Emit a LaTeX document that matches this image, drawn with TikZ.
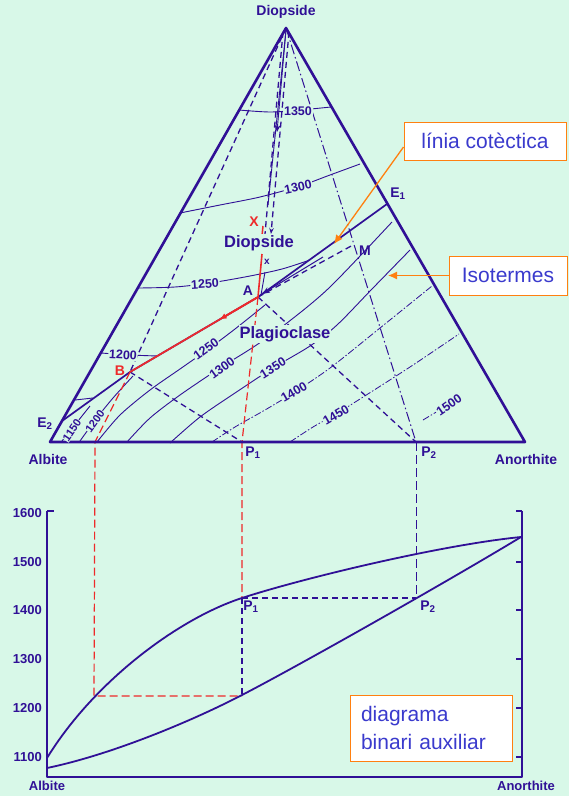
\documentclass[tikz,border=0pt]{standalone}
\usepackage{fontspec}
\setmainfont{Liberation Sans}
\usetikzlibrary{arrows.meta,calc}
\definecolor{bg}{RGB}{216,248,232}
\definecolor{ink}{RGB}{48,16,150}
\definecolor{rd}{RGB}{238,42,42}
\definecolor{org}{RGB}{255,128,16}
\definecolor{atxt}{RGB}{58,58,205}
\tikzset{
  tri/.style={ink,line width=2.6pt,line join=round},
  iso/.style={ink,line width=0.9pt},
  isodd/.style={ink,line width=0.8pt,dash pattern=on 7pt off 2pt on 1.5pt off 2pt},
  dsh/.style={ink,line width=1.3pt,dash pattern=on 6pt off 4pt},
  ldsh/.style={ink,line width=1pt,dash pattern=on 9pt off 4pt},
  ddot/.style={ink,line width=1pt,dash pattern=on 10pt off 3pt on 1.5pt off 3pt},
  rdsh/.style={rd,line width=1.2pt,dash pattern=on 8pt off 4pt},
  lbl/.style={text=ink,font=\bfseries\fontsize{14}{14}\selectfont,inner sep=1pt},
  big/.style={text=ink,font=\bfseries\fontsize{16.5}{17}\selectfont,inner sep=1pt},
  tnum/.style={text=ink,font=\bfseries\fontsize{12.5}{12.5}\selectfont,fill=bg,inner sep=0.8pt},
  snum/.style={tnum,font=\bfseries\fontsize{11}{11}\selectfont,inner sep=0.4pt},
  ann/.style={draw=org,fill=white,line width=1pt,text=atxt,font=\fontsize{21}{28}\selectfont},
  oarr/.style={org,line width=1.3pt,-{Latex[length=9pt,width=8pt]}},
  curve/.style={ink,line width=1.8pt},
}
\begin{document}
\begin{tikzpicture}[x=1pt,y=-1pt]
\fill[bg] (0,0) rectangle (569,796);
\useasboundingbox (0,0) rectangle (569,796);
% key points
\coordinate (Di) at (286,28);
\coordinate (Ab) at (50,442);
\coordinate (An) at (525,442);
\coordinate (A) at (258,297);
\coordinate (B) at (130,372);
\coordinate (E1) at (387,204);
\coordinate (E2) at (62,421);
\coordinate (M) at (353,245);
\coordinate (P1) at (242,442);
\coordinate (P2) at (416,442);
\coordinate (Q) at (95,442);
\coordinate (Xr) at (262,254);
% ---------- diopside field isotherms
\draw[iso] plot[smooth] coordinates {(239,110) (270,112) (300,110) (331,107)};
\draw[iso] plot[smooth] coordinates {(180,213) (220,205) (260,197) (300,186) (330,175) (360,164)};
\draw[iso] plot[smooth] coordinates {(139,288) (175,287) (210,283) (250,276) (282,269) (310,260)};
\draw[iso] plot[smooth] coordinates {(101,353) (130,355) (158,356)};
\draw[iso] (75,400) -- (93,398);
% ---------- plagioclase field isotherms
\draw[iso] (62,441) -- (90,406);
\draw[iso] plot[smooth] coordinates {(80,441) (96,419) (113,398) (133,376)};
\draw[iso] plot[smooth] coordinates {(97,442) (120,415) (150,390) (180,369) (207,350) (235,329) (265,305)};
\draw[iso] plot[smooth] coordinates {(127,442) (150,418) (180,395) (220,368) (255,346) (287,323) (330,287) (392,222)};
\draw[iso] plot[smooth] coordinates {(170,443) (200,417) (235,393) (273,368) (310,346) (337,325) (372,289) (410,250)};
\draw[isodd] plot[smooth] coordinates {(212,442) (235,427) (265,410) (293,393) (330,368) (380,328) (432,286)};
\draw[isodd] plot[smooth] coordinates {(290,442) (313,427) (336,414) (360,399) (410,367) (459,334)};
\draw[isodd] (423,420) -- (438,411);
% ---------- construction lines
\draw[dsh] (Di) -- (B);
\draw[ddot] (Di) -- (P2);
\draw[dsh] (A) -- (P2);
\draw[dsh] (B) -- (P1);
\draw[dsh] (A) -- (M);
\draw[dsh] (283,32) -- (265,234);
\draw[dsh,-{Stealth[length=6pt]}] (289,32) -- (271,234);
\draw[iso] (286,30) -- (268,205);
\draw[iso,-{Stealth[length=7pt,width=6pt]}] (286,30) -- (277,132);
\draw[iso] (265,272) -- (261,295);
% cotectic
\draw[ink,line width=1.7pt] (E2) -- (B) -- (A) -- (E1);
\draw[ink,line width=1pt,-{Stealth[length=8pt,width=6pt]}] (323,257) -- (262,294);
% red path
\draw[rd,line width=1.7pt] (A) -- (B);
\draw[rd,line width=1.7pt,-{Latex[length=7pt,width=6pt]}] (A) -- ($(A)!0.3!(B)$);
\draw[rd,line width=1.6pt] (Xr) -- (A);
\draw[rd,line width=1.5pt] (263,226) -- (262,236);
% red dashed projections
\draw[rdsh] (B) -- (Q) -- (94,696) -- (242,696);
\draw[rdsh] (A) -- (P1) -- (242,598);
% triangle
\draw[tri] (Ab) -- (Di) -- (An) -- cycle;
% blue dashed projections
\draw[ldsh] (P2) -- (416,598);
\draw[dsh] (242,598) -- (416,598);
\draw[dsh] (242,598) -- (242,695);
% ---------- isotherm labels
\node[tnum] (d1350) at (298,111) {1350};
\node[tnum,rotate=12] (d1300) at (298,187) {1300};
\node[tnum,rotate=4] (d1250) at (205,284) {1250};
\node[tnum,rotate=-3] (d1200) at (123,355) {1200};
\node[snum,rotate=56] (p1150) at (72,430) {1150};
\node[snum,rotate=54] (p1200) at (95,421) {1200};
\node[tnum,rotate=36] (p1250) at (206,349) {1250};
\node[tnum,rotate=36] (p1300) at (222,368) {1300};
\node[tnum,rotate=32] (p1350) at (273,368) {1350};
\node[tnum,rotate=30] (p1400) at (294,392) {1400};
\node[tnum,rotate=30] (p1450) at (336,415) {1450};
\node[tnum,rotate=35] (p1500) at (449,405) {1500};
% ---------- labels
\node[lbl] (lDi) at (286,12) {Diopside};
\node[lbl] (lAb) at (48,459) {Albite};
\node[lbl] (lAn) at (526,459) {Anorthite};
\node[big,fill=bg] (lDi2) at (259,243) {Diopside};
\node[big,fill=bg] (lPl) at (285,334) {Plagioclase};
\node[lbl] (lA) at (248,291) {A};
\node[lbl] (lM) at (365,251) {M};
\node[lbl] (lE1) at (398,194) {E\textsubscript{1}};
\node[lbl] (lE2) at (45,424) {E\textsubscript{2}};
\node[lbl,text=rd] (lB) at (120,371) {B};
\node[lbl,text=rd] (lX) at (254,222) {X};
\node[lbl,font=\bfseries\fontsize{10}{10}\selectfont] (lx) at (267,262) {x};
\node[lbl] (lP1) at (253,453) {P\textsubscript{1}};
\node[lbl] (lP2) at (429,453) {P\textsubscript{2}};
% ---------- binary diagram
\coordinate (O) at (47,777);
\coordinate (Yt) at (47,511);
\coordinate (R) at (522,777);
\coordinate (Rt) at (522,511);
\draw[tri] (Yt) -- (O) -- (R) -- (Rt);
\draw[ink,line width=2pt] (Yt) -- (54,511);
\foreach \y in {511,562,610,659,708,757} \draw[ink,line width=1.5pt] (522,\y) -- (516,\y);
\foreach \t/\y in {1600/513,1500/562,1400/610,1300/659,1200/708,1100/757}
  \node[lbl,anchor=east,font=\bfseries\fontsize{13}{13}\selectfont] (y\t) at (43,\y) {\t};
\coordinate (L0) at (47,758);
\coordinate (S0) at (47,768);
\coordinate (P1b) at (242,598);
\coordinate (S1) at (242,695);
\coordinate (P2b) at (416,598);
\coordinate (T) at (521,537);
\draw[curve] (L0) .. controls (95,680) and (180,618) .. (P1b) .. controls (300,579) and (440,545) .. (T);
\draw[curve] (S0) .. controls (110,755) and (190,722) .. (S1) .. controls (300,665) and (450,580) .. (T);
\node[lbl] (bP1) at (251,607) {P\textsubscript{1}};
\node[lbl] (bP2) at (428,607) {P\textsubscript{2}};
\node[lbl,font=\bfseries\fontsize{13}{13}\selectfont] (bAb) at (47,786) {Albite};
\node[lbl,font=\bfseries\fontsize{13}{13}\selectfont] (bAn) at (526,786) {Anorthite};
% ---------- annotation boxes
\node[ann,minimum width=162pt,minimum height=38pt] (cot) at (485,141) {línia cotèctica};
\node[ann,minimum width=118pt,minimum height=39pt] (isob) at (508,275.5) {Isotermes};
\node[ann,minimum width=162pt,minimum height=66pt,align=left,text width=140pt] (bin) at (431,728) {diagrama\\binari auxiliar};
\draw[oarr] ([yshift=-6pt]cot.west) -- (334,244);
\draw[oarr] (isob.west) -- (388,275.5);
\end{tikzpicture}
\end{document}
